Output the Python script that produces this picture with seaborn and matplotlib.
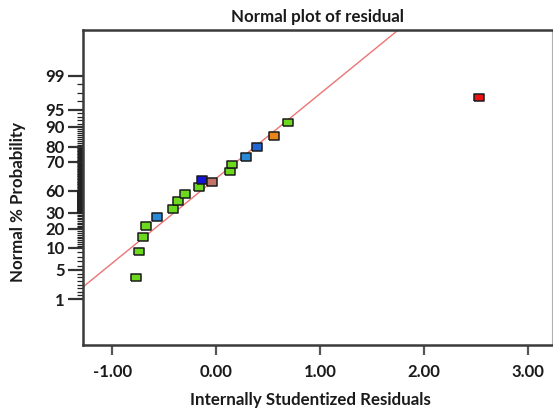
import numpy as np
import pandas as pd
import matplotlib
matplotlib.use("Agg")
import matplotlib.pyplot as plt
import seaborn as sns

# ---- data ----
resid = [-0.77, -0.74, -0.70, -0.67, -0.57, -0.41, -0.37, -0.30, -0.16,
         -0.14, -0.04, 0.13, 0.15, 0.29, 0.39, 0.56, 0.69, 2.53]
prob = [4.0, 9.3, 15.8, 21.9, 27.5, 35.5, 46.4, 55.9, 61.4,
        63.8, 63.1, 66.6, 69.0, 73.3, 80.0, 85.5, 91.2, 96.5]
group = ["g", "g", "g", "g", "b", "g", "g", "g", "g",
         "db", "br", "g", "g", "b", "mb", "o", "g", "r"]
fit_x = [-1.28, 1.75]
fit_prob = [2.66, 104.4]
x_ticks = [-1.0, 0.0, 1.0, 2.0, 3.0]
y_tick_vals = [1, 5, 10, 20, 30, 60, 70, 80, 90, 95, 99]

palette = {"g": "#6cd81e", "b": "#2a88d8", "db": "#1414d8", "br": "#c07468",
           "mb": "#2266d4", "o": "#e8861c", "r": "#e81414"}

# probability-axis positions (relative vertical layout of the printed scale)
y_tick_pos = [46, 75, 97, 116, 132, 154, 183, 198, 218, 235, 269]
P = np.array(y_tick_vals, float)
Q = np.array(y_tick_pos, float)


def _interp_ext(v, a, b):
    v = np.asarray(v, float)
    out = np.interp(v, a, b)
    lo = v < a[0]
    hi = v > a[-1]
    out = np.where(lo, b[0] + (v - a[0]) * (b[1] - b[0]) / (a[1] - a[0]), out)
    out = np.where(hi, b[-1] + (v - a[-1]) * (b[-1] - b[-2]) / (a[-1] - a[-2]), out)
    return out


def fwd(v):
    return _interp_ext(v, P, Q)


def inv(v):
    return _interp_ext(v, Q, P)


sns.set_style("white")
plt.rcParams["font.family"] = ["Lato", "DejaVu Sans"]
plt.rcParams["font.weight"] = "bold"

fig = plt.figure(figsize=(5.53, 4.16), dpi=100)
ax = fig.add_axes([83 / 553, (416 - 345) / 416, (552 - 83) / 553, (345 - 30) / 416])
ax.set_yscale("function", functions=(fwd, inv))

df = pd.DataFrame({"resid": resid, "prob": prob, "grp": group})
fit = pd.DataFrame({"x": fit_x, "y": fit_prob})

sns.lineplot(data=fit, x="x", y="y", color="#ec7474", linewidth=1.0, ax=ax)
rect = [(-1.4, -1.0), (1.4, -1.0), (1.4, 1.0), (-1.4, 1.0), (-1.4, -1.0)]
sns.scatterplot(data=df, x="resid", y="prob", hue="grp", palette=palette,
                marker=rect, s=52, edgecolor="#1a1a1a", linewidth=1.1,
                legend=False, ax=ax, zorder=3)

ax.set_xlim(-1.28, 3.23)
ax.set_ylim(float(inv(0.0)), float(inv(315.0)))

ax.set_xticks(x_ticks)
ax.set_xticklabels([f"{t:.2f}" for t in x_ticks])
ax.set_yticks(y_tick_vals)
ax.set_yticklabels([str(t) for t in y_tick_vals])

minor = ([1.5, 2, 2.5, 3, 3.5, 4, 4.5, 6, 7, 8, 9]
         + list(range(11, 20)) + list(range(21, 30))
         + list(np.arange(30.5, 60, 0.25)) + list(np.arange(60.5, 70, 0.25))
         + list(np.arange(70.5, 80, 0.5)) + list(range(81, 90))
         + [91, 92, 93, 94, 96, 97, 98])
ax.set_yticks(minor, minor=True)

ax.tick_params(axis="y", which="major", direction="out", length=11, width=1.6,
               color="#333333", labelsize=12, pad=2, left=True)
ax.tick_params(axis="y", which="minor", direction="out", length=4, width=0.9,
               color="#222222", left=True)
ax.tick_params(axis="x", which="major", direction="out", length=7, width=1.6,
               color="#555555", labelsize=12, pad=7, bottom=True)

for lab in ax.get_xticklabels() + ax.get_yticklabels():
    lab.set_fontweight("bold")
    lab.set_color("#1a1a1a")

for s in ["left", "bottom", "top"]:
    ax.spines[s].set_color("#3a3a3a")
    ax.spines[s].set_linewidth(1.8)
ax.spines["right"].set_color("#b0b0b0")
ax.spines["right"].set_linewidth(0.8)

ax.set_title("Normal plot of residual", fontsize=12.2, fontweight="bold",
             color="#1a1a1a", pad=6)
ax.set_xlabel("Internally Studentized Residuals", fontsize=12.2,
              fontweight="bold", color="#1a1a1a")
ax.set_ylabel("Normal % Probability", fontsize=12.2, fontweight="bold",
              color="#1a1a1a")
ax.xaxis.set_label_coords((310 - 83) / 469, -(392 - 345) / 315)
ax.yaxis.set_label_coords(-(83 - 26) / 469, (345 - 202) / 315)

fig.savefig("out.png", dpi=100)
